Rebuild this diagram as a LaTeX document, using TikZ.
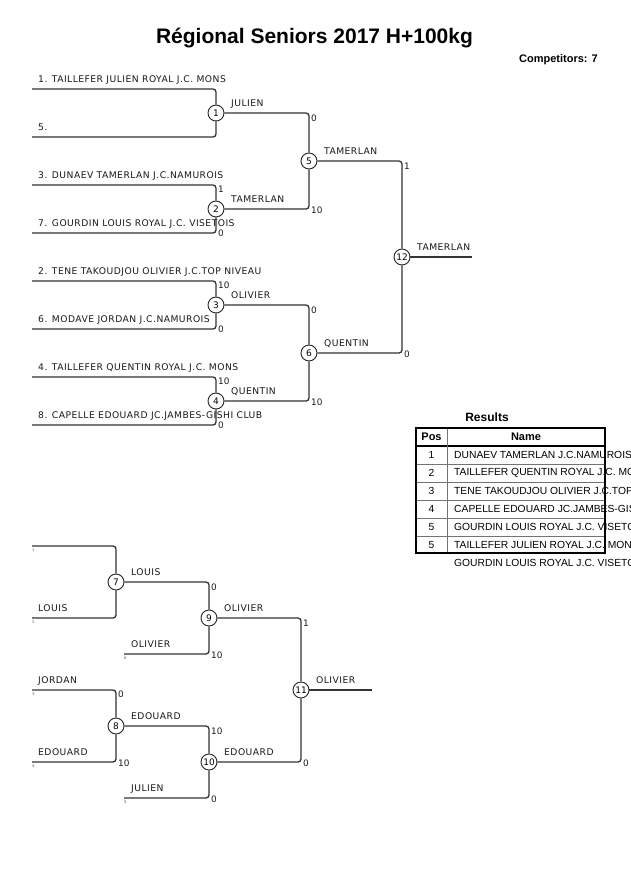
\documentclass[tikz,border=0pt]{standalone}
\usepackage{fontspec}
\setmainfont{Liberation Sans}
\newfontfamily\labfont[LetterSpace=5]{DejaVu Sans}
\newfontfamily\numfont{DejaVu Sans}
\begin{document}
\begin{tikzpicture}[x=1pt,y=-1pt,
  br/.style={draw=black!80, line width=1.3pt, rounded corners=3pt},
  mc/.style={circle, draw=black!85, line width=0.9pt, fill=white, minimum size=16pt, inner sep=0pt, font=\numfont\fontsize{9}{9}\selectfont},
  lab/.style={anchor=base west, inner sep=0pt, font=\labfont\fontsize{9.2}{10}\selectfont, text=black!90},
  sc/.style={anchor=west, inner sep=0pt, font=\numfont\fontsize{8.9}{9}\selectfont, text=black!90},
  tinyl/.style={anchor=west, inner sep=0pt, font=\numfont\fontsize{4}{4}\selectfont, text=black!60},
  tcell/.style={anchor=west, inner sep=0pt, font=\fontsize{10.3}{11}\selectfont},
  tnum/.style={inner sep=0pt, font=\fontsize{10.3}{11}\selectfont},
  thead/.style={inner sep=0pt, font=\bfseries\fontsize{11}{12}\selectfont},
  rowline/.style={draw=black!55, line width=0.8pt}]
\useasboundingbox (0,0) rectangle (630,891);

% title
\node[inner sep=0pt, font=\bfseries\fontsize{21}{24}\selectfont] (title) at (314.5,38) {Régional Seniors 2017 H+100kg};
\node[anchor=east, inner sep=0pt, font=\bfseries\fontsize{11}{12}\selectfont] (comp) at (598,60) {Competitors: 7};

% ---------------- main bracket ----------------
\coordinate (e1) at (32,89);
\coordinate (e5) at (32,137);
\coordinate (e3) at (32,185);
\coordinate (e7) at (32,233);
\coordinate (e2) at (32,281);
\coordinate (e6) at (32,329);
\coordinate (e4) at (32,377);
\coordinate (e8) at (32,425);

\node[mc] (m1) at (216,113) {1};
\node[mc] (m2) at (216,209) {2};
\node[mc] (m3) at (216,305) {3};
\node[mc] (m4) at (216,401) {4};
\node[mc] (m5) at (309,161) {5};
\node[mc] (m6) at (309,353) {6};
\node[mc] (m12) at (402,257) {12};
\coordinate (f12) at (472,257);

\draw[br] (e1) -| (m1.north);
\draw[br] (e5) -| (m1.south);
\draw[br] (e3) -| (m2.north);
\draw[br] (e7) -| (m2.south);
\draw[br] (e2) -| (m3.north);
\draw[br] (e6) -| (m3.south);
\draw[br] (e4) -| (m4.north);
\draw[br] (e8) -| (m4.south);
\draw[br] (m1.east) -| (m5.north);
\draw[br] (m2.east) -| (m5.south);
\draw[br] (m3.east) -| (m6.north);
\draw[br] (m4.east) -| (m6.south);
\draw[br] (m5.east) -| (m12.north);
\draw[br] (m6.east) -| (m12.south);
\draw[br] (m12.east) -- (f12);

\node[lab] (l1) at (38,82) {1. TAILLEFER JULIEN ROYAL J.C. MONS};
\node[lab] (l5) at (38,130) {5.};
\node[lab] (l3) at (38,178) {3. DUNAEV TAMERLAN J.C.NAMUROIS};
\node[lab] (l7) at (38,226) {7. GOURDIN LOUIS ROYAL J.C. VISETOIS};
\node[lab] (l2) at (38,274) {2. TENE TAKOUDJOU OLIVIER J.C.TOP NIVEAU};
\node[lab] (l6) at (38,322) {6. MODAVE JORDAN J.C.NAMUROIS};
\node[lab] (l4) at (38,370) {4. TAILLEFER QUENTIN ROYAL J.C. MONS};
\node[lab] (l8) at (38,418) {8. CAPELLE EDOUARD JC.JAMBES-GISHI CLUB};

\node[lab] (w1) at (231,106) {JULIEN};
\node[lab] (w2) at (231,202) {TAMERLAN};
\node[lab] (w3) at (231,298) {OLIVIER};
\node[lab] (w4) at (231,394) {QUENTIN};
\node[lab] (w5) at (324,154) {TAMERLAN};
\node[lab] (w6) at (324,346) {QUENTIN};
\node[lab] (w12) at (417,250) {TAMERLAN};

\node[sc] (s2a) at (218,189) {1};
\node[sc] (s2b) at (218,233) {0};
\node[sc] (s3a) at (218,285) {10};
\node[sc] (s3b) at (218,329) {0};
\node[sc] (s4a) at (218,381) {10};
\node[sc] (s4b) at (218,425) {0};
\node[sc] (s5a) at (311,118) {0};
\node[sc] (s5b) at (311,210) {10};
\node[sc] (s6a) at (311,310) {0};
\node[sc] (s6b) at (311,402) {10};
\node[sc] (s12a) at (404,166) {1};
\node[sc] (s12b) at (404,354) {0};

% ---------------- results table ----------------
\node[inner sep=0pt, font=\bfseries\fontsize{12}{13}\selectfont] (restitle) at (487,417) {Results};
\node[thead] (hpos) at (431.5,437) {Pos};
\node[thead] (hname) at (526,437) {Name};
\node[tnum] (p1) at (431.5,455) {1};
\node[tnum] (p2) at (431.5,473) {2};
\node[tnum] (p3) at (431.5,491) {3};
\node[tnum] (p4) at (431.5,509) {4};
\node[tnum] (p5) at (431.5,527) {5};
\node[tnum] (p6) at (431.5,545) {5};
\node[tcell] (n1) at (454,455) {DUNAEV TAMERLAN J.C.NAMUROIS};
\node[tcell] (n2) at (454,473) {TAILLEFER QUENTIN ROYAL J.C. MONS};
\node[tcell] (n3) at (454,491) {TENE TAKOUDJOU OLIVIER J.C.TOP NIVEAU};
\node[tcell] (n4) at (454,509) {CAPELLE EDOUARD JC.JAMBES-GISHI CLUB};
\node[tcell] (n5) at (454,527) {GOURDIN LOUIS ROYAL J.C. VISETOIS};
\node[tcell] (n6) at (454,545) {TAILLEFER JULIEN ROYAL J.C. MONS};
\node[tcell] (n7) at (454,563) {GOURDIN LOUIS ROYAL J.C. VISETOIS};
\foreach \yy in {464,482,500,518,536} \draw[rowline] (416,\yy) -- (605,\yy);
\draw[draw=black, line width=1.2pt] (416,446) -- (605,446);
\draw[rowline] (447,428) -- (447,553);
\draw[draw=black, line width=1.6pt] (416,428) rectangle (605,553);

% ---------------- repechage bracket ----------------
\coordinate (b1) at (32,546);
\coordinate (b2) at (32,618);
\coordinate (b6) at (124,654);
\coordinate (b3) at (32,690);
\coordinate (b4) at (32,762);
\coordinate (b5) at (124,798);

\node[mc] (m7) at (116,582) {7};
\node[mc] (m8) at (116,726) {8};
\node[mc] (m9) at (209,618) {9};
\node[mc] (m10) at (209,762) {10};
\node[mc] (m11) at (301,690) {11};
\coordinate (f11) at (372,690);

\draw[br] (b1) -| (m7.north);
\draw[br] (b2) -| (m7.south);
\draw[br] (b3) -| (m8.north);
\draw[br] (b4) -| (m8.south);
\draw[br] (b6) -| (m9.south);
\draw[br] (b5) -| (m10.south);
\draw[br] (m7.east) -| (m9.north);
\draw[br] (m8.east) -| (m10.north);
\draw[br] (m9.east) -| (m11.north);
\draw[br] (m10.east) -| (m11.south);
\draw[br] (m11.east) -- (f11);

\node[tinyl] (t1) at (32,550) {1};
\node[tinyl] (t2) at (32,622) {2};
\node[tinyl] (t6) at (124,658) {6};
\node[tinyl] (t3) at (32,694) {3};
\node[tinyl] (t4) at (32,766) {4};
\node[tinyl] (t5) at (124,802) {5};

\node[lab] (lb2) at (38,611) {LOUIS};
\node[lab] (lb6) at (131,647) {OLIVIER};
\node[lab] (lb3) at (38,683) {JORDAN};
\node[lab] (lb4) at (38,755) {EDOUARD};
\node[lab] (lb5) at (131,791) {JULIEN};

\node[lab] (w7) at (131,575) {LOUIS};
\node[lab] (w8) at (131,719) {EDOUARD};
\node[lab] (w9) at (224,611) {OLIVIER};
\node[lab] (w10) at (224,755) {EDOUARD};
\node[lab] (w11) at (316,683) {OLIVIER};

\node[sc] (s8a) at (118,694) {0};
\node[sc] (s8b) at (118,763) {10};
\node[sc] (s9a) at (211,587) {0};
\node[sc] (s9b) at (211,655) {10};
\node[sc] (s10a) at (211,731) {10};
\node[sc] (s10b) at (211,799) {0};
\node[sc] (s11a) at (303,623) {1};
\node[sc] (s11b) at (303,763) {0};
\end{tikzpicture}
\end{document}
